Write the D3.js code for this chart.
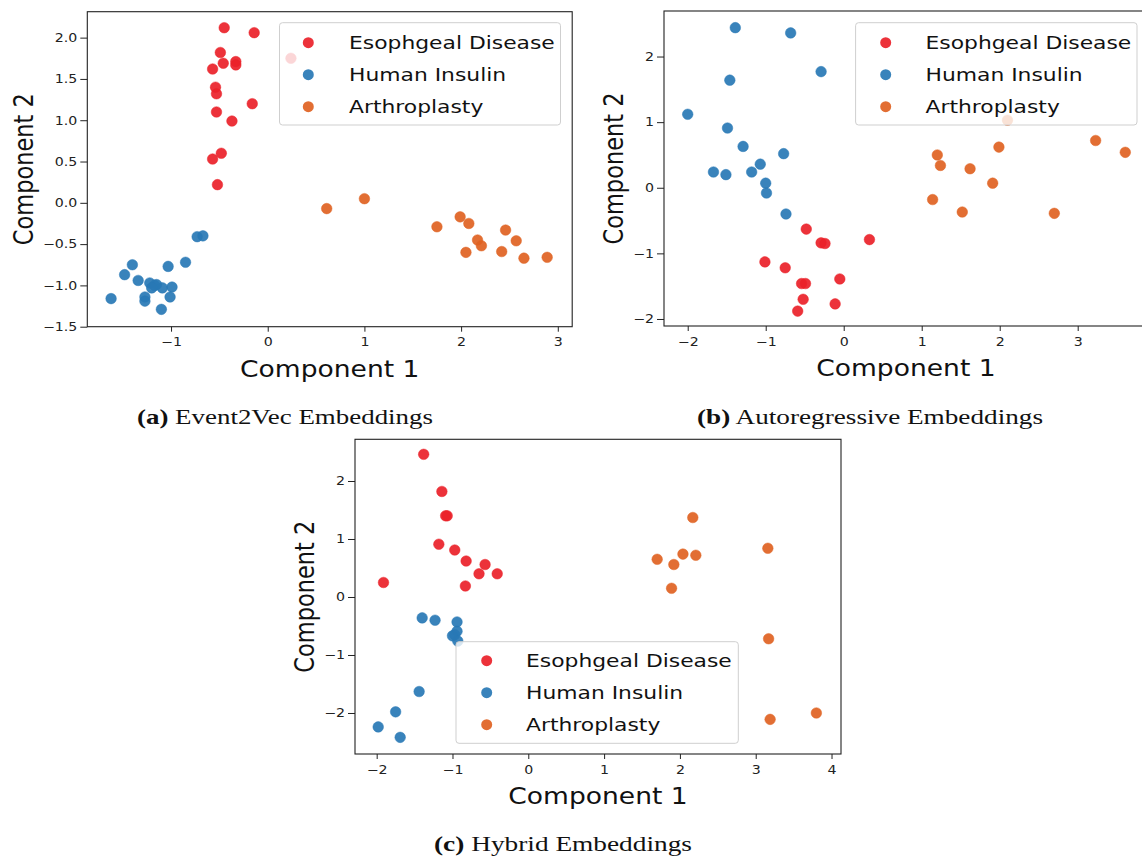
<!DOCTYPE html>
<html><head><meta charset="utf-8">
<script src="https://cdn.jsdelivr.net/npm/d3@7"></script>
<style>
html,body{margin:0;padding:0;background:#fff;}
svg{display:block;}
</style></head>
<body>
<svg id="chart" width="1142" height="859"></svg>
<script>
// ---------- DATA ----------
const seriesNames = ["Esophgeal Disease", "Human Insulin", "Arthroplasty"];
const seriesColors = ["#ea2129", "#2878b5", "#df6222"];

// (a) Event2Vec
const e2vEsophageal = [[-0.45,2.12],[-0.14,2.06],[-0.49,1.82],[-0.46,1.69],[-0.33,1.71],[-0.33,1.67],[-0.57,1.62],[0.24,1.75],[-0.54,1.40],[-0.53,1.32],[-0.16,1.20],[-0.53,1.10],[-0.37,0.99],[-0.48,0.60],[-0.57,0.53],[-0.52,0.22]];
const e2vInsulin = [[-0.73,-0.41],[-0.67,-0.40],[-0.85,-0.72],[-1.03,-0.77],[-1.40,-0.75],[-1.48,-0.87],[-1.34,-0.94],[-1.22,-0.97],[-1.15,-0.99],[-1.17,-1.00],[-1.20,-1.03],[-1.09,-1.03],[-0.99,-1.02],[-1.27,-1.14],[-1.27,-1.19],[-1.01,-1.14],[-1.10,-1.29],[-1.62,-1.16]];
const e2vArthro = [[0.61,-0.07],[1.00,0.05],[1.75,-0.29],[1.99,-0.17],[2.08,-0.25],[2.17,-0.45],[2.21,-0.52],[2.05,-0.60],[2.46,-0.33],[2.57,-0.46],[2.42,-0.59],[2.65,-0.67],[2.89,-0.66]];

// (b) Autoregressive
const arEsophageal = [[-0.48,-0.63],[-0.29,-0.84],[-0.24,-0.85],[0.33,-0.79],[-1.01,-1.13],[-0.75,-1.22],[-0.54,-1.46],[-0.49,-1.46],[-0.05,-1.39],[-0.52,-1.70],[-0.11,-1.77],[-0.59,-1.88]];
const arInsulin = [[-1.39,2.44],[-0.68,2.36],[-0.29,1.77],[-1.46,1.64],[-2.00,1.12],[-1.49,0.91],[-1.29,0.63],[-0.77,0.52],[-1.07,0.36],[-1.18,0.24],[-1.67,0.24],[-1.51,0.20],[-1.00,0.07],[-0.99,-0.08],[-0.74,-0.40]];
const arArthro = [[2.10,1.03],[3.23,0.72],[3.61,0.54],[1.20,0.50],[1.24,0.34],[1.99,0.62],[1.62,0.29],[1.91,0.07],[1.14,-0.18],[1.52,-0.37],[2.70,-0.39]];

// (c) Hybrid
const hyEsophageal = [[-1.38,2.46],[-1.14,1.82],[-1.09,1.40],[-1.07,1.40],[-1.18,0.91],[-0.97,0.81],[-0.82,0.62],[-0.57,0.56],[-0.65,0.40],[-0.41,0.40],[-0.83,0.19],[-1.91,0.25]];
const hyInsulin = [[-1.40,-0.36],[-1.23,-0.40],[-0.94,-0.43],[-0.94,-0.59],[-0.97,-0.65],[-1.00,-0.67],[-0.93,-0.76],[-1.44,-1.63],[-1.75,-1.98],[-1.98,-2.24],[-1.69,-2.42]];
const hyArthro = [[2.17,1.37],[3.16,0.84],[1.70,0.65],[1.92,0.56],[2.04,0.74],[2.21,0.72],[1.89,0.15],[3.17,-0.72],[3.19,-2.11],[3.80,-2.00]];

// tick values
const aXTicks = [-1,0,1,2,3];
const aYTicks = [-1.5,-1.0,-0.5,0.0,0.5,1.0,1.5,2.0];
const bXTicks = [-2,-1,0,1,2,3];
const bYTicks = [-2,-1,0,1,2];
const cXTicks = [-2,-1,0,1,2,3,4];
const cYTicks = [-2,-1,0,1,2];

const captions = [["(a)", " Event2Vec Embeddings"], ["(b)", " Autoregressive Embeddings"], ["(c)", " Hybrid Embeddings"]];
const xLabel = "Component 1";
const yLabel = "Component 2";

// ---------- LAYOUT ----------
const STRETCH = 1.18;
const svg = d3.select("#chart");

const panels = [
  {series:[e2vEsophageal,e2vInsulin,e2vArthro], xd:[-1.866,3.149], xr:[87.3,572.2], yd:[-1.5,2.314], yr:[326.7,11.7],
   xt:aXTicks, yt:aYTicks, yfmt:d3.format(".1f"), xfmt:d3.format("d"),
   legend:{x0:279.5,x1:560.5,y0:22.7,y1:125,mx:308.3,tx:349,my:42.7},
   cap:{x:285,y:424,w:296}},
  {series:[arEsophageal,arInsulin,arArthro], xd:[-2.304,3.9], xr:[664,1147.9], yd:[-2.107,2.694], yr:[326,11],
   xt:bXTicks, yt:bYTicks, yfmt:d3.format("d"), xfmt:d3.format("d"),
   legend:{x0:855.6,x1:1137,y0:22.7,y1:125,mx:885.7,tx:925.5,my:42.7},
   cap:{x:870,y:424,w:346}},
  {series:[hyEsophageal,hyInsulin,hyArthro], xd:[-2.286,4.125], xr:[355,841], yd:[-2.707,2.719], yr:[754,439.3],
   xt:cXTicks, yt:cYTicks, yfmt:d3.format("d"), xfmt:d3.format("d"),
   legend:{x0:456,x1:738.3,y0:641.7,y1:743.3,mx:486.7,tx:526,my:660.7},
   cap:{x:563,y:851,w:258}}
];

function stretchText(sel, f){
  sel.each(function(){
    const w = this.getComputedTextLength();
    d3.select(this).attr("textLength", w*f).attr("lengthAdjust","spacingAndGlyphs");
  });
}

const FONT = "'DejaVu Sans', sans-serif";

panels.forEach((p, pi) => {
  const x = d3.scaleLinear().domain(p.xd).range(p.xr);
  const y = d3.scaleLinear().domain(p.yd).range(p.yr);
  const g = svg.append("g");
  const clipId = "clip"+pi;
  g.append("clipPath").attr("id", clipId).append("rect")
    .attr("x", p.xr[0]).attr("y", p.yr[1]).attr("width", p.xr[1]-p.xr[0]).attr("height", p.yr[0]-p.yr[1]);

  // points
  const pts = g.append("g").attr("clip-path", `url(#${clipId})`);
  p.series.forEach((s, si) => {
    pts.selectAll(null).data(s).enter().append("circle")
      .attr("cx", d => x(d[0])).attr("cy", d => y(d[1])).attr("r", 5.3)
      .attr("fill", seriesColors[si]).attr("fill-opacity", 0.92)
      .attr("stroke", seriesColors[si]).attr("stroke-opacity", 0.6).attr("stroke-width", 0.8);
  });

  // axes
  const xAxis = d3.axisBottom(x).tickValues(p.xt).tickFormat(p.xfmt).tickSize(5).tickPadding(3);
  const yAxis = d3.axisLeft(y).tickValues(p.yt).tickFormat(p.yfmt).tickSize(7).tickPadding(3);
  const gx = g.append("g").attr("transform", `translate(0,${p.yr[0]})`).call(xAxis);
  const gy = g.append("g").attr("transform", `translate(${p.xr[0]},0)`).call(yAxis);
  [gx, gy].forEach(a => {
    a.select(".domain").remove();
    a.selectAll(".tick line").attr("stroke", "#222").attr("stroke-width", 1);
    a.selectAll(".tick text").attr("fill", "#222").style("font-family", FONT).style("font-size", "12px");
  });
  gx.selectAll(".tick text").attr("dy", "0.71em").attr("y", 11);
  stretchText(gx.selectAll(".tick text"), STRETCH);
  stretchText(gy.selectAll(".tick text"), STRETCH);

  // spines
  g.append("rect").attr("x", p.xr[0]).attr("y", p.yr[1])
    .attr("width", p.xr[1]-p.xr[0]).attr("height", p.yr[0]-p.yr[1])
    .attr("fill", "none").attr("stroke", "#222").attr("stroke-width", 1.1);

  // axis labels
  const xl = g.append("text").attr("x", (p.xr[0]+p.xr[1])/2).attr("y", p.yr[0]+50)
    .attr("text-anchor", "middle").style("font-family", FONT).style("font-size", "22.5px").attr("fill", "#111").text(xLabel);
  stretchText(xl, STRETCH);
  // y label: find tick label extent
  let minX = Infinity;
  gy.selectAll(".tick text").each(function(){ const b = this.getBBox(); const w = +d3.select(this).attr("textLength"); minX = Math.min(minX, p.xr[0] - 10 - w); });
  const ylx = minX - 10, yly = (p.yr[0]+p.yr[1])/2;
  g.append("text").attr("transform", `translate(${ylx},${yly}) rotate(-90) scale(1,${STRETCH})`)
    .attr("text-anchor", "middle").style("font-family", FONT).style("font-size", "22.5px").attr("fill", "#111").text(yLabel);

  // legend
  const L = p.legend;
  const lg = g.append("g");
  lg.append("rect").attr("x", L.x0).attr("y", L.y0).attr("width", L.x1-L.x0).attr("height", L.y1-L.y0)
    .attr("rx", 3).attr("fill", "#fff").attr("fill-opacity", 0.8).attr("stroke", "#cfcfcf").attr("stroke-width", 1);
  seriesNames.forEach((n, i) => {
    const cy = L.my + i*32;
    lg.append("circle").attr("cx", L.mx).attr("cy", cy).attr("r", 5.5)
      .attr("fill", seriesColors[i]).attr("fill-opacity", 0.92);
    const t = lg.append("text").attr("x", L.tx).attr("y", cy+6.2).style("font-family", FONT).style("font-size", "18.5px")
      .attr("fill", "#111").text(n);
    stretchText(t, STRETCH);
  });

  // caption
  const ct = svg.append("text").attr("x", p.cap.x).attr("y", p.cap.y).attr("text-anchor", "middle")
    .style("font-family", "'Liberation Serif', 'DejaVu Serif', serif").style("font-size", "21px").attr("fill", "#111");
  ct.append("tspan").style("font-weight", "bold").text(captions[pi][0]);
  ct.append("tspan").text(captions[pi][1]);
  ct.attr("textLength", p.cap.w).attr("lengthAdjust", "spacingAndGlyphs");
});
</script>
</body></html>
